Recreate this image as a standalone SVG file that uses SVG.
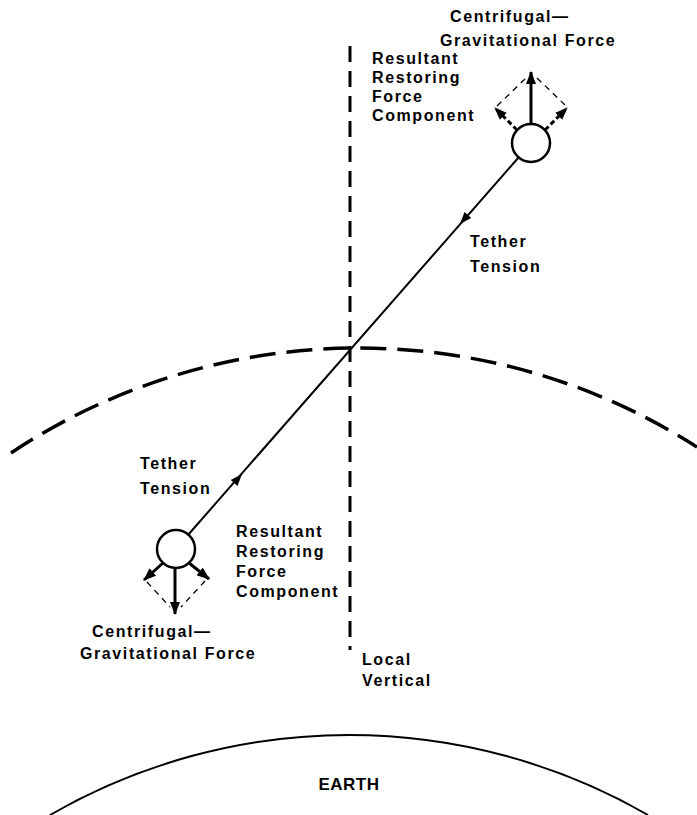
<svg xmlns="http://www.w3.org/2000/svg" width="697" height="815" viewBox="0 0 697 815">
  <style>
    .lbl { font-family: "Liberation Sans", Arial, sans-serif; font-weight: bold; font-size: 16px; letter-spacing: 1.6px; fill: #000; }
    .mass { fill: #fff; stroke: #000; stroke-width: 2.5; }
    .force { stroke: #000; stroke-width: 3; fill: none; }
    .fdash { stroke: #000; stroke-width: 3; fill: none; stroke-dasharray: 5 3; }
    .thin { stroke: #000; stroke-width: 1.3; fill: none; stroke-dasharray: 6 5; }
  </style>
  <defs>
    <marker id="head" markerUnits="userSpaceOnUse" markerWidth="13" markerHeight="10" refX="12" refY="5" orient="auto">
      <path d="M0,0 L13,5 L0,10 Z" fill="#000"/>
    </marker>
  </defs>
  <rect width="697" height="815" fill="#fff"/>

  <g id="connectors">
    <path id="orbit" d="M11,453 A628,628 0 0 1 697,447" fill="none" stroke="#000" stroke-width="3.5" stroke-dasharray="26 11"/>
    <line id="local-vertical" x1="350" y1="46" x2="350" y2="650" stroke="#000" stroke-width="3" stroke-dasharray="16 9"/>
    <line id="tether" x1="519" y1="157" x2="188" y2="535" stroke="#000" stroke-width="2"/>
    <polygon points="0,0 -12,-4.5 -12,4.5" transform="translate(460,224) rotate(131)" fill="#000"/>
    <polygon points="0,0 -12,-4.5 -12,4.5" transform="translate(242,474) rotate(-49)" fill="#000"/>
  </g>

  <g id="upper-mass">
    <line class="thin" x1="497" y1="106" x2="526" y2="78"/>
    <line class="thin" x1="537" y1="78" x2="565" y2="105"/>
    <line class="force" x1="531" y1="124" x2="531" y2="72" marker-end="url(#head)"/>
    <line class="fdash" x1="517" y1="130" x2="495" y2="108" marker-end="url(#head)"/>
    <line class="fdash" x1="545" y1="130" x2="567" y2="108" marker-end="url(#head)"/>
    <circle class="mass" cx="531" cy="143" r="19"/>
  </g>

  <g id="lower-mass">
    <line class="thin" x1="147" y1="582" x2="170" y2="607"/>
    <line class="thin" x1="205" y1="581" x2="181" y2="607"/>
    <line class="force" x1="175" y1="568" x2="175" y2="614" marker-end="url(#head)"/>
    <line class="force" x1="163" y1="563" x2="144" y2="580" marker-end="url(#head)"/>
    <line class="force" x1="189" y1="563" x2="209" y2="579" marker-end="url(#head)"/>
    <circle class="mass" cx="176" cy="549" r="19"/>
  </g>

  <g id="earth">
    <path d="M50,815 A599,599 0 0 1 648,815" fill="none" stroke="#000" stroke-width="2"/>
    <text class="lbl" x="349" y="790" text-anchor="middle" style="font-size:17px;letter-spacing:0.5px">EARTH</text>
  </g>

  <g id="labels">
    <text class="lbl" x="450" y="22">Centrifugal—</text>
    <text class="lbl" x="440" y="46">Gravitational Force</text>
    <text class="lbl" x="372" y="64">Resultant</text>
    <text class="lbl" x="372" y="83">Restoring</text>
    <text class="lbl" x="372" y="102">Force</text>
    <text class="lbl" x="372" y="121">Component</text>
    <text class="lbl" x="470" y="247">Tether</text>
    <text class="lbl" x="470" y="272">Tension</text>
    <text class="lbl" x="140" y="469">Tether</text>
    <text class="lbl" x="140" y="494">Tension</text>
    <text class="lbl" x="236" y="537">Resultant</text>
    <text class="lbl" x="236" y="557">Restoring</text>
    <text class="lbl" x="236" y="577">Force</text>
    <text class="lbl" x="236" y="597">Component</text>
    <text class="lbl" x="92" y="637">Centrifugal—</text>
    <text class="lbl" x="80" y="659">Gravitational Force</text>
    <text class="lbl" x="362" y="665">Local</text>
    <text class="lbl" x="362" y="686">Vertical</text>
  </g>
</svg>
